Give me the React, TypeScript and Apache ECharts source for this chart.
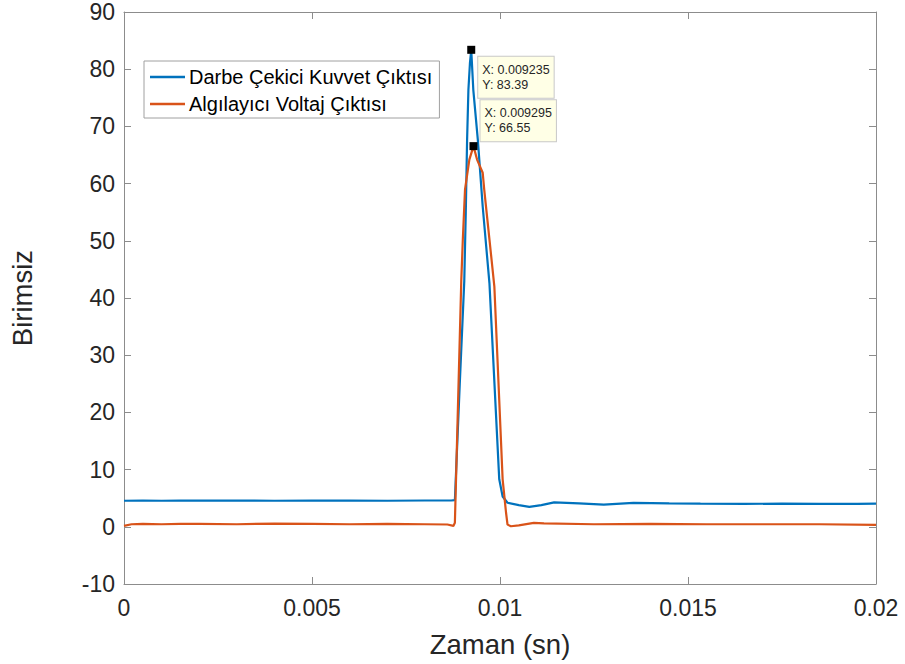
import React, { useEffect, useRef } from "react";
import * as echarts from "echarts";

// Time axis ticks (s)
const xTicks = [0, 0.005, 0.01, 0.015, 0.02];
const yTicks = [-10, 0, 10, 20, 30, 40, 50, 60, 70, 80, 90];

// Series 1: Darbe Çekici Kuvvet Çıktısı
const blueT = [0, 0.0005, 0.001, 0.0015, 0.002, 0.003, 0.004, 0.005, 0.006, 0.007, 0.008, 0.0087, 0.0088, 0.00893, 0.00905, 0.00909, 0.009125, 0.00916, 0.0092, 0.009235, 0.00929, 0.00941, 0.00954, 0.00972, 0.00998, 0.01007, 0.0102, 0.0105, 0.01078, 0.0111, 0.01144, 0.0121, 0.01276, 0.01355, 0.0145, 0.01533, 0.0165, 0.0175, 0.0185, 0.0195, 0.02];
const blueV = [4.55, 4.6, 4.55, 4.6, 4.58, 4.6, 4.55, 4.58, 4.6, 4.55, 4.6, 4.6, 4.65, 25, 43, 55, 67.7, 76.4, 81, 83.39, 76.4, 67.7, 56, 42.5, 8.3, 5.3, 4.2, 3.8, 3.48, 3.8, 4.28, 4.1, 3.88, 4.17, 4.1, 4.05, 4.0, 4.05, 4.0, 4.0, 4.05];

// Series 2: Algılayıcı Voltaj Çıktısı
const orangeT = [0, 0.0002, 0.0005, 0.001, 0.0015, 0.002, 0.003, 0.004, 0.005, 0.006, 0.007, 0.008, 0.0086, 0.00876, 0.0088, 0.00897, 0.00901, 0.00907, 0.009185, 0.009295, 0.00939, 0.00954, 0.00958, 0.00972, 0.00985, 0.01007, 0.01016, 0.0102, 0.01029, 0.0105, 0.0109, 0.01117, 0.0125, 0.014, 0.0155, 0.017, 0.0185, 0.02];
const orangeV = [0.15, 0.45, 0.5, 0.45, 0.5, 0.5, 0.45, 0.55, 0.5, 0.45, 0.5, 0.45, 0.4, 0.15, 0.7, 43, 50, 59, 64.2, 66.55, 64.2, 61.9, 59, 50.2, 42, 8.3, 2.5, 0.38, 0.1, 0.25, 0.68, 0.6, 0.45, 0.5, 0.45, 0.45, 0.45, 0.35];

const seriesNames = ["Darbe Çekici Kuvvet Çıktısı", "Algılayıcı Voltaj Çıktısı"];
const blueTipIndex = 19;
const orangeTipIndex = 19;

const FONT = "Liberation Sans, Arial, Helvetica, sans-serif";
const AXIS_COLOR = "#8c8c8c";
const TEXT_COLOR = "#262626";

function fmtX(v: number) {
  if (v === 0) return "0";
  return String(parseFloat(v.toPrecision(6)));
}

export default function App() {
  const ref = useRef<HTMLDivElement>(null);
  useEffect(() => {
    if (!ref.current) return;
    const chart = echarts.init(ref.current, undefined, { renderer: "svg" });
    const blueData = blueT.map((t, i) => [t, blueV[i]]);
    const orangeData = orangeT.map((t, i) => [t, orangeV[i]]);

    const tipLabel = (pos: number[]) => ({
      show: true,
      position: pos,
      formatter: (p: any) => `X: ${fmtX(p.data.coord[0])}\nY: ${p.data.coord[1].toFixed(2)}`,
      backgroundColor: "#FFFFE6",
      borderColor: "#c8c8c8",
      borderWidth: 1,
      padding: [6, 4, 6, 4],
      color: TEXT_COLOR,
      fontFamily: FONT,
      fontSize: 12.5,
      lineHeight: 14.5,
      align: "left",
      verticalAlign: "top",
    });

    const axisCommon = {
      min: xTicks[0],
      max: xTicks[xTicks.length - 1],
      interval: xTicks[1] - xTicks[0],
    };
    const yCommon = {
      min: yTicks[0],
      max: yTicks[yTicks.length - 1],
      interval: yTicks[1] - yTicks[0],
    };

    chart.setOption({
      animation: false,
      backgroundColor: "#ffffff",
      grid: { left: 122, right: 29, top: 12, bottom: 80, containLabel: false },
      legend: {
        orient: "vertical",
        left: 144,
        top: 61,
        data: seriesNames,
        icon: "rect",
        itemWidth: 35,
        itemHeight: 2.5,
        itemGap: 7,
        padding: [6, 7, 4, 6],
        borderColor: "#a0a0a0",
        borderWidth: 1,
        backgroundColor: "#ffffff",
        textStyle: { fontFamily: FONT, fontSize: 20, color: "#000", lineHeight: 20, padding: [0, 0, 0, -1] },
      },
      xAxis: [
        {
          type: "value",
          ...axisCommon,
          position: "bottom",
          name: "Zaman (sn)",
          nameLocation: "middle",
          nameGap: 46,
          nameTextStyle: { fontFamily: FONT, fontSize: 27.5, color: TEXT_COLOR },
          axisLine: { show: true, onZero: false, lineStyle: { color: AXIS_COLOR, width: 1 } },
          axisTick: { show: true, inside: true, length: 7, lineStyle: { color: AXIS_COLOR } },
          axisLabel: { show: true, fontFamily: FONT, fontSize: 23, color: TEXT_COLOR, margin: 12, formatter: fmtX },
          splitLine: { show: false },
        },
        {
          type: "value",
          ...axisCommon,
          position: "top",
          axisLine: { show: true, onZero: false, lineStyle: { color: AXIS_COLOR, width: 1 } },
          axisTick: { show: true, inside: true, length: 7, lineStyle: { color: AXIS_COLOR } },
          axisLabel: { show: false },
          splitLine: { show: false },
        },
      ],
      yAxis: [
        {
          type: "value",
          ...yCommon,
          position: "left",
          name: "Birimsiz",
          nameLocation: "middle",
          nameGap: 88,
          nameRotate: 90,
          nameTextStyle: { fontFamily: FONT, fontSize: 27.5, color: TEXT_COLOR },
          axisLine: { show: true, onZero: false, lineStyle: { color: AXIS_COLOR, width: 1 } },
          axisTick: { show: true, inside: true, length: 7, lineStyle: { color: AXIS_COLOR } },
          axisLabel: { show: true, fontFamily: FONT, fontSize: 23, color: TEXT_COLOR, margin: 9 },
          splitLine: { show: false },
        },
        {
          type: "value",
          ...yCommon,
          position: "right",
          axisLine: { show: true, onZero: false, lineStyle: { color: AXIS_COLOR, width: 1 } },
          axisTick: { show: true, inside: true, length: 7, lineStyle: { color: AXIS_COLOR } },
          axisLabel: { show: false },
          splitLine: { show: false },
        },
      ],
      series: [
        {
          name: seriesNames[0],
          type: "line",
          xAxisIndex: 0,
          yAxisIndex: 0,
          data: blueData,
          symbol: "none",
          color: "#0072BD",
          lineStyle: { color: "#0072BD", width: 2.2 },
          z: 2,
          markPoint: {
            symbol: "rect",
            symbolSize: 8,
            itemStyle: { color: "#000" },
            label: tipLabel([11, 11]),
            data: [{ coord: [blueT[blueTipIndex], blueV[blueTipIndex]] }],
            z: 10,
          },
        },
        {
          name: seriesNames[1],
          type: "line",
          xAxisIndex: 0,
          yAxisIndex: 0,
          data: orangeData,
          symbol: "none",
          color: "#D95319",
          lineStyle: { color: "#D95319", width: 2.2 },
          z: 3,
          markPoint: {
            symbol: "rect",
            symbolSize: 8,
            itemStyle: { color: "#000" },
            label: tipLabel([11, -42]),
            data: [{ coord: [orangeT[orangeTipIndex], orangeV[orangeTipIndex]] }],
            z: 10,
          },
        },
      ],
    });
    return () => chart.dispose();
  }, []);
  return (
    <div
      ref={ref}
      style={{ position: "fixed", left: 0, top: 0, width: 905, height: 664, background: "#fff" }}
    />
  );
}
